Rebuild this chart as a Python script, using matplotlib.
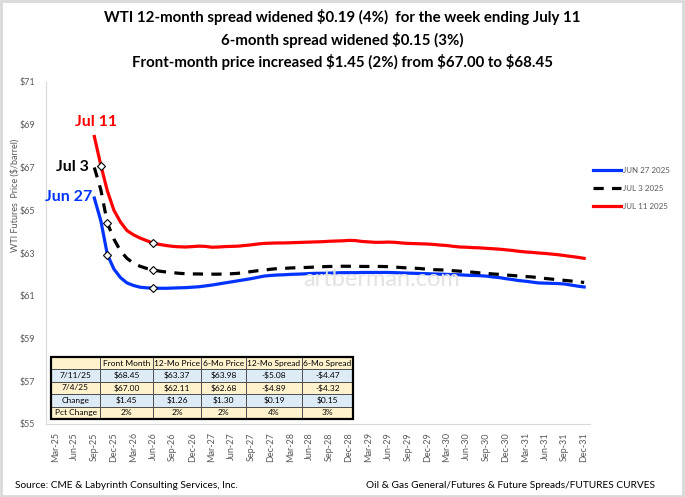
import numpy as np
import matplotlib
matplotlib.use("Agg")
import matplotlib.pyplot as plt
from matplotlib.patches import Rectangle

# month index 0 = Mar-25 ... 81 = Dec-31
tick_labels = []
_mon = ['Mar', 'Jun', 'Sep', 'Dec']
for yr in range(25, 32):
    for m in _mon:
        tick_labels.append(m + '-' + str(yr))
tick_pos = list(range(0, 82, 3))

months = list(range(6, 82))  # Sep-25 .. Dec-31

jul11 = [68.45, 67.10, 65.90, 65.00, 64.45, 64.05, 63.85, 63.70, 63.58, 63.46,
         63.40, 63.35, 63.31, 63.29, 63.28, 63.30, 63.32, 63.31, 63.27, 63.28,
         63.30, 63.31, 63.32, 63.35, 63.38, 63.42, 63.45, 63.46, 63.47, 63.47,
         63.48, 63.49, 63.50, 63.51, 63.52, 63.53, 63.55, 63.56, 63.57, 63.59,
         63.58, 63.54, 63.52, 63.50, 63.50, 63.51, 63.50, 63.47, 63.45, 63.44,
         63.43, 63.42, 63.40, 63.37, 63.35, 63.31, 63.28, 63.27, 63.25, 63.24,
         63.22, 63.20, 63.18, 63.15, 63.12, 63.08, 63.05, 63.03, 63.00, 62.98,
         62.95, 62.92, 62.88, 62.84, 62.80, 62.75]
jul3 = [67.00, 65.95, 64.40, 63.65, 63.10, 62.75, 62.52, 62.38, 62.28, 62.21,
        62.15, 62.11, 62.08, 62.05, 62.03, 62.02, 62.02, 62.01, 62.01, 62.01,
        62.02, 62.03, 62.05, 62.09, 62.13, 62.17, 62.20, 62.24, 62.27, 62.28,
        62.30, 62.31, 62.32, 62.33, 62.35, 62.36, 62.37, 62.37, 62.38, 62.38,
        62.38, 62.37, 62.37, 62.37, 62.37, 62.36, 62.34, 62.32, 62.30, 62.29,
        62.27, 62.24, 62.22, 62.21, 62.20, 62.17, 62.15, 62.12, 62.10, 62.07,
        62.05, 62.02, 62.00, 61.97, 61.95, 61.92, 61.90, 61.88, 61.85, 61.81,
        61.78, 61.75, 61.72, 61.69, 61.66, 61.62]
jun27 = [65.57, 64.50, 62.92, 62.25, 61.85, 61.60, 61.48, 61.40, 61.37, 61.36,
         61.35, 61.35, 61.36, 61.37, 61.38, 61.40, 61.42, 61.46, 61.50, 61.55,
         61.60, 61.65, 61.70, 61.75, 61.80, 61.86, 61.92, 61.95, 61.97, 61.98,
         62.00, 62.01, 62.02, 62.04, 62.05, 62.05, 62.06, 62.07, 62.08, 62.08,
         62.08, 62.09, 62.09, 62.09, 62.09, 62.09, 62.08, 62.07, 62.06, 62.05,
         62.04, 62.03, 62.02, 62.01, 62.00, 61.99, 61.98, 61.96, 61.95, 61.94,
         61.92, 61.88, 61.85, 61.80, 61.76, 61.71, 61.68, 61.64, 61.60, 61.59,
         61.58, 61.57, 61.55, 61.50, 61.45, 61.41]

# diamond markers (month index, price)
mark_x = [7, 15, 8, 15, 8, 15]
mark_y = [67.06, 63.46, 64.40, 62.21, 62.92, 61.36]

table_cols = ['', 'Front Month', '12-Mo Price', '6-Mo Price', '12-Mo Spread', '6-Mo Spread']
table_rows = [
    ['7/11/25', '$68.45', '$63.37', '$63.98', '-$5.08', '-$4.47'],
    ['7/4/25', '$67.00', '$62.11', '$62.68', '-$4.89', '-$4.32'],
    ['Change', '$1.45', '$1.26', '$1.30', '$0.19', '$0.15'],
    ['Pct Change', '2%', '2%', '2%', '4%', '3%'],
]

title = ('WTI 12-month spread widened \\$0.19 (4%)  for the week ending July 11\n'
         '6-month spread widened \\$0.15 (3%)\n'
         'Front-month price increased \\$1.45 (2%) from \\$67.00 to \\$68.45')

plt.rcParams['font.family'] = ['Lato', 'DejaVu Sans']
gray = '#595959'

fig = plt.figure(figsize=(6.85, 4.97), dpi=100)
ax = fig.add_axes([46 / 685, 1 - 424 / 497, 544 / 685, 342 / 497])

ax.plot(months, jun27, color='#0033ff', lw=2.3, label='JUN 27 2025', zorder=3)
ax.plot(months, jul3, color='black', lw=2.3, ls=(0, (3.2, 2.6)), label='JUL 3 2025', zorder=3)
ax.plot(months, jul11, color='#ff0000', lw=2.3, label='JUL 11 2025', zorder=3)
ax.plot(mark_x, mark_y, ls='none', marker='D', ms=4, mfc='white', mec='black', mew=0.8, zorder=4)

ax.set_xlim(-1.4, 81.9)
ax.set_ylim(55, 71)
ax.set_yticks(range(55, 72, 2))
ax.set_yticklabels(['$' + str(v) for v in range(55, 72, 2)])
ax.set_xticks(tick_pos)
ax.set_xticklabels(tick_labels, rotation=90)
ax.tick_params(axis='both', length=0, labelsize=6.5, labelcolor=gray)
ax.tick_params(axis='y', pad=8)
ax.tick_params(axis='x', pad=6)
for s in ['top', 'right']:
    ax.spines[s].set_visible(False)
for s in ['left', 'bottom']:
    ax.spines[s].set_color('#d9d9d9')
    ax.spines[s].set_linewidth(0.8)

fig.text(15 / 685, 1 - 195 / 497, 'WTI Futures  Price ($/barrel)', rotation=90,
         ha='center', va='center', fontsize=6.5, color=gray)

ax.text(9.5, 69.13, 'Jul 11', color='#ff0000', fontsize=11.5, fontweight='bold', ha='right', va='center')
ax.text(5.1, 67.02, 'Jul 3', color='black', fontsize=11.5, fontweight='bold', ha='right', va='center')
ax.text(5.7, 65.62, 'Jun 27', color='#0033ff', fontsize=11.5, fontweight='bold', ha='right', va='center')

ax.text(50, 61.75, 'artberman.com', color='#e2e2e2', fontsize=17, ha='center', va='center', zorder=5)

fig.text(0.5, 1 - 9 / 497, title, ha='center', va='top', fontsize=10.8,
         fontweight='bold', linespacing=1.5)

leg = fig.legend(loc='upper left', bbox_to_anchor=(590 / 685, 1 - 164 / 497), frameon=False,
                 fontsize=5.8, labelcolor=gray, handlelength=3.5, handletextpad=0.2,
                 labelspacing=1.35, borderaxespad=0)

# table
col_w = [49, 53, 48, 45, 56, 51]
tot = sum(col_w)
tb = ax.table(cellText=[table_cols] + table_rows, cellLoc='center',
              colWidths=[w / tot for w in col_w],
              bbox=[5 / 544, 5 / 342, 302 / 544, 62 / 342])
tb.auto_set_font_size(False)
tb.set_fontsize(6)
yellow = '#fff2cc'
blue = '#ddebf7'
row_colors = [yellow, blue, yellow, blue, yellow]
for (r, c), cell in tb.get_celld().items():
    cell.set_facecolor(row_colors[r])
    cell.set_edgecolor('#404040')
    cell.set_linewidth(0.6)
    cell.PAD = 0.02
tb.set_zorder(6)
ax.add_patch(Rectangle((5 / 544, 5 / 342), 302 / 544, 62 / 342, transform=ax.transAxes,
                       fill=False, ec='black', lw=1.6, zorder=7))

fig.text(15 / 685, 1 - 485 / 497, 'Source: CME & Labyrinth Consulting Services, Inc.',
         fontsize=7.3, ha='left', va='center')
fig.text(655 / 685, 1 - 485 / 497, 'Oil & Gas General/Futures & Future Spreads/FUTURES CURVES',
         fontsize=7.3, ha='right', va='center')

fig.patches.append(Rectangle((0.002, 0.003), 0.995, 0.994, transform=fig.transFigure,
                             fill=False, ec='#d9d9d9', lw=2))

fig.savefig('out.png', dpi=100)
